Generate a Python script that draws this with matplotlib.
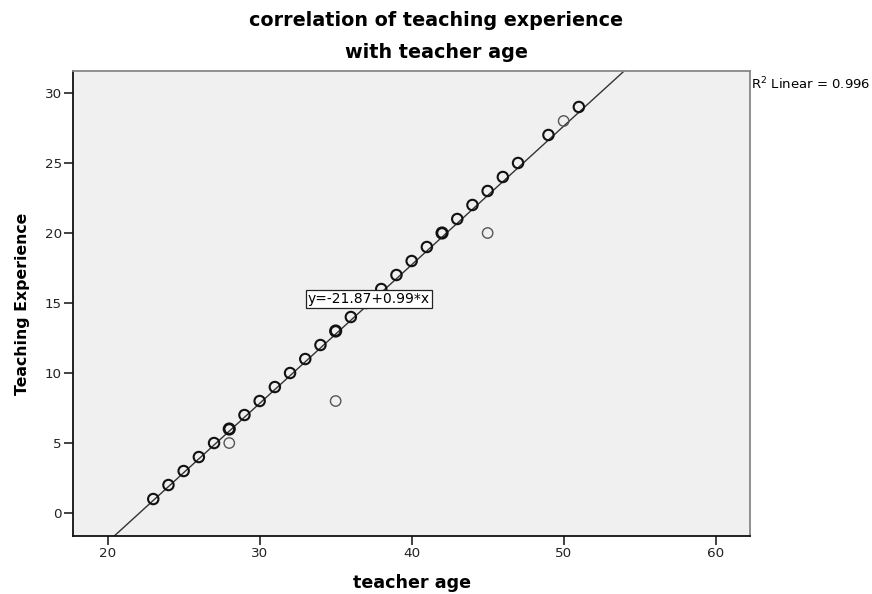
import numpy as np
import matplotlib
matplotlib.use("Agg")
import matplotlib.pyplot as plt

plt.rcParams['font.family'] = ['DejaVu Sans']

# teacher age and teaching experience, repeated ages give the darker rings
age = [23, 24, 25, 26, 27, 28, 29, 30, 31, 32, 33, 34, 35, 36, 37, 38, 39,
       40, 41, 42, 43, 44, 45, 46, 47, 49, 50, 51, 28, 35, 45]
experience = [1, 2, 3, 4, 5, 6, 7, 8, 9, 10, 11, 12, 13, 14, 15, 16, 17,
              18, 19, 20, 21, 22, 23, 24, 25, 27, 28, 29, 5, 8, 20]
count = [2, 2, 2, 2, 2, 3, 2, 2, 2, 2, 2, 2, 3, 2, 2, 2, 2,
         2, 2, 3, 2, 2, 2, 2, 2, 2, 1, 2, 1, 1, 1]

intercept = -21.87
slope = 0.99
r2 = 0.996

fig = plt.figure(figsize=(8.72, 5.94), dpi=100)
ax = fig.add_axes([73 / 872, 1 - 536 / 594, 677 / 872, 465 / 594])
ax.set_facecolor('#f0f0f0')

ax.set_xlim(17.72, 62.26)
ax.set_ylim(-1.64, 31.57)

xs = np.array(ax.get_xlim())
ax.plot(xs, intercept + slope * xs, color='#333333', lw=1.0, zorder=2)

for a, e, c in zip(age, experience, count):
    ax.scatter([a], [e], s=56, facecolors='none',
               edgecolors='#111111' if c > 1 else '#555555',
               linewidths=1.0 + 0.5 * (c - 1), zorder=3)

ax.text(37.2, 15.3, "y=-21.87+0.99*x", ha='center', va='center', fontsize=10,
        zorder=5, bbox=dict(boxstyle='square,pad=0.15', fc='white', ec='#222222', lw=0.9))

ax.set_xticks([20, 30, 40, 50, 60])
ax.set_yticks([0, 5, 10, 15, 20, 25, 30])
ax.tick_params(direction='out', length=6.5, width=1.2, labelsize=9.7, colors='#222222', pad=1.5)
for s in ['left', 'bottom']:
    ax.spines[s].set_color('#111111')
    ax.spines[s].set_linewidth(1.3)
for s in ['top', 'right']:
    ax.spines[s].set_color('#888888')
    ax.spines[s].set_linewidth(1.3)

ax.set_xlabel("teacher age", fontsize=12.6, fontweight='bold')
ax.set_ylabel("Teaching Experience", fontsize=11.3, fontweight='bold')
ax.xaxis.set_label_coords(0.5, (536 - 583) / 465)
ax.yaxis.set_label_coords((22 - 73) / 677, 0.5)
ax.xaxis.label.set_va('center')
ax.yaxis.label.set_va('center')

fig.text(0.5, 1 - 20 / 594, "correlation of teaching experience", ha='center', va='center',
         fontsize=13.8, fontweight='bold')
fig.text(0.5, 1 - 53 / 594, "with teacher age", ha='center', va='center',
         fontsize=13.8, fontweight='bold')
fig.text(751 / 872, 1 - 84 / 594, "R$^2$ Linear = %.3f" % r2, ha='left', va='center', fontsize=9.5)

fig.savefig("out.png", dpi=100)
